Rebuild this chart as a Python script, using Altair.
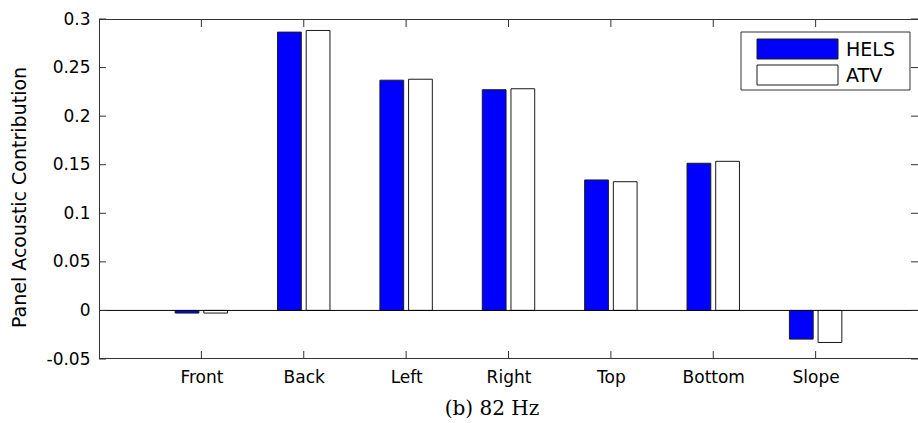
import altair as alt
import pandas as pd

# ---- data ----
categories = ["Front", "Back", "Left", "Right", "Top", "Bottom", "Slope"]
series = ["HELS", "ATV"]
hels = [-0.0027, 0.2865, 0.2370, 0.2272, 0.1343, 0.1515, -0.0295]
atv = [-0.0027, 0.2882, 0.2380, 0.2282, 0.1325, 0.1535, -0.0330]
y_ticks = [-0.05, 0, 0.05, 0.1, 0.15, 0.2, 0.25, 0.3]
caption = "(b) 82 Hz"
y_title = "Panel Acoustic Contribution"
fills = ["#0000FF", "#FFFFFF"]

# ---- layout constants ----
W, H = 819, 340
SANS = "DejaVu Sans"
SERIF = "DejaVu Serif"
FRAME = "#333333"

idx = list(range(1, len(categories) + 1))
rows = []
for i, c in enumerate(categories):
    rows.append({"idx": idx[i], "cat": c, "series": series[0], "value": hels[i], "k": 0})
    rows.append({"idx": idx[i], "cat": c, "series": series[1], "value": atv[i], "k": 1})
df = pd.DataFrame(rows)

xscale = alt.Scale(domain=[0, len(categories) + 1], nice=False, zero=False)
yscale = alt.Scale(domain=[y_ticks[0], y_ticks[-1]], nice=False, zero=False)

label_arr = "[" + ",".join("'%s'" % c for c in categories) + "]"
xaxis = alt.Axis(values=idx, labelExpr=label_arr + "[datum.value-1]", domain=False, ticks=False,
                 grid=False, title=None, labelFont=SANS, labelFontSize=17, labelColor="black",
                 labelPadding=10)
yaxis = alt.Axis(values=y_ticks, format="~g", labelExpr="replace(datum.label, '\u2212', '-')",
                 domain=False, ticks=False, grid=False, title=y_title, labelFont=SANS,
                 labelFontSize=17, labelColor="black", labelPadding=9,
                 titleFont=SANS, titleFontSize=19, titleFontWeight="normal", titleColor="black",
                 titleX=-80, titleY=178, titleAngle=270, titleAlign="center", titleBaseline="middle")

base = alt.Chart(df)

bars = base.mark_bar(stroke="#1a1a1a", strokeWidth=1).transform_calculate(
    x0="datum.idx + (datum.k == 0 ? -0.256 : 0.024)",
    x1="datum.idx + (datum.k == 0 ? -0.024 : 0.256)",
).encode(
    x=alt.X("x0:Q", scale=xscale, axis=xaxis),
    x2="x1:Q",
    y=alt.Y("value:Q", scale=yscale, axis=yaxis),
    y2=alt.datum(0),
    fill=alt.Fill("series:N", scale=alt.Scale(domain=series, range=fills), legend=None),
)

zero = alt.Chart(pd.DataFrame({"z": [0]})).mark_rule(color="black", strokeWidth=1).encode(
    y=alt.Y("z:Q", scale=yscale, axis=yaxis), x=alt.value(0), x2=alt.value(W)
)

# frame (left, top, bottom)
frame = alt.Chart(pd.DataFrame({"a": [0]})).mark_rule(color=FRAME, strokeWidth=1)
left_line = frame.encode(x=alt.value(0.5), y=alt.value(0), y2=alt.value(H))
top_line = frame.encode(y=alt.value(0.5), x=alt.value(0), x2=alt.value(W))
bot_line = frame.encode(y=alt.value(H - 0.5), x=alt.value(0), x2=alt.value(W))

yt = alt.Chart(pd.DataFrame({"yv": y_ticks})).mark_rule(color=FRAME, strokeWidth=1)
left_ticks = yt.encode(y=alt.Y("yv:Q", scale=yscale, axis=yaxis), x=alt.value(0), x2=alt.value(7))
right_ticks = yt.encode(y=alt.Y("yv:Q", scale=yscale, axis=yaxis), x=alt.value(W - 7), x2=alt.value(W))

xt = alt.Chart(pd.DataFrame({"xv": idx})).mark_rule(color=FRAME, strokeWidth=1)
bot_ticks = xt.encode(x=alt.X("xv:Q", scale=xscale, axis=xaxis), y=alt.value(H - 8), y2=alt.value(H))
top_ticks = xt.encode(x=alt.X("xv:Q", scale=xscale, axis=xaxis), y=alt.value(0), y2=alt.value(8))

# legend (drawn manually)
leg = alt.Chart(pd.DataFrame({"a": [0]}))
leg_box = leg.mark_rect(fill="white", stroke=FRAME, strokeWidth=1).encode(
    x=alt.value(642), x2=alt.value(811), y=alt.value(13), y2=alt.value(71))
leg_items = []
for j, s in enumerate(series):
    y0 = 20 + 26 * j
    leg_items.append(leg.mark_rect(fill=fills[j], stroke="#1a1a1a", strokeWidth=1).encode(
        x=alt.value(658), x2=alt.value(739), y=alt.value(y0), y2=alt.value(y0 + 20)))
    leg_items.append(leg.mark_text(font=SANS, fontSize=19, color="black", align="left",
                                   baseline="middle").encode(
        x=alt.value(747), y=alt.value(y0 + 10.5), text=alt.value(s)))

cap = leg.mark_text(font=SERIF, fontSize=20, color="black", align="center",
                    baseline="middle").encode(
    x=alt.value(393), y=alt.value(390), text=alt.value(caption))

chart = alt.layer(
    bars, zero, left_line, top_line, bot_line, left_ticks, right_ticks, bot_ticks, top_ticks,
    leg_box, *leg_items, cap
).properties(
    width=W, height=H,
    autosize=alt.AutoSizeParams(type="none"),
    padding={"left": 99, "top": 19, "right": 0, "bottom": 64},
    background="white",
).configure_view(stroke=None)

chart.save("out.html", embed_options={"renderer": "svg", "actions": False})
